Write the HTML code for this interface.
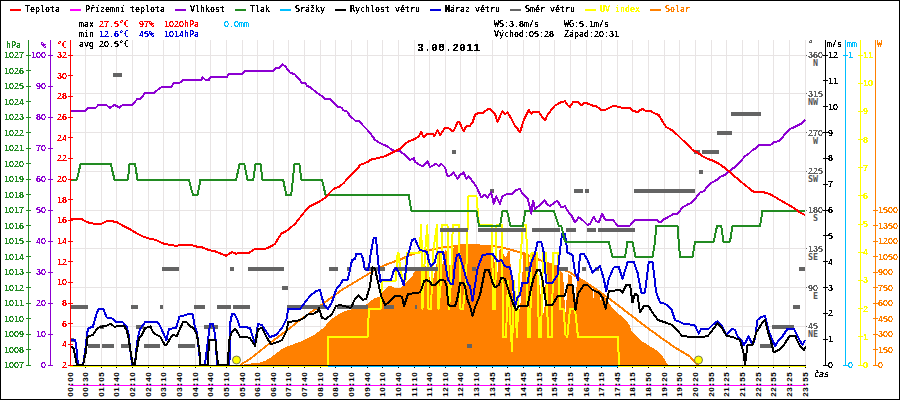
<!DOCTYPE html>
<html><head><meta charset="utf-8"><style>
html,body{margin:0;padding:0;background:#fff;}
.c{position:relative;width:900px;height:400px;overflow:hidden;background:#fff;}
svg{position:absolute;left:0;top:0;}
text{font-family:"DejaVu Sans Mono","Liberation Mono",monospace;font-size:8.3px;font-weight:normal;}
</style></head><body><div class="c">
<svg width="900" height="400" viewBox="0 0 900 400">
<defs><filter id="th" x="0" y="0" width="100%" height="100%" color-interpolation-filters="sRGB"><feComponentTransfer><feFuncA type="discrete" tableValues="0 1 1"/></feComponentTransfer></filter><filter id="th5" x="0" y="0" width="100%" height="100%" color-interpolation-filters="sRGB"><feComponentTransfer><feFuncA type="discrete" tableValues="0 1"/></feComponentTransfer></filter></defs>
<rect x="0.5" y="0.5" width="899" height="399" fill="#fff" stroke="#000" stroke-width="1"/>
<path d="M85.5 40V365 M101.5 40V365 M116.5 40V365 M132.5 40V365 M148.5 40V365 M163.5 40V365 M179.5 40V365 M195.5 40V365 M210.5 40V365 M226.5 40V365 M242.5 40V365 M257.5 40V365 M273.5 40V365 M288.5 40V365 M304.5 40V365 M320.5 40V365 M335.5 40V365 M351.5 40V365 M367.5 40V365 M382.5 40V365 M398.5 40V365 M414.5 40V365 M429.5 40V365 M445.5 40V365 M460.5 40V365 M476.5 40V365 M492.5 40V365 M507.5 40V365 M523.5 40V365 M539.5 40V365 M554.5 40V365 M570.5 40V365 M586.5 40V365 M601.5 40V365 M617.5 40V365 M632.5 40V365 M648.5 40V365 M664.5 40V365 M679.5 40V365 M695.5 40V365 M711.5 40V365 M726.5 40V365 M742.5 40V365 M758.5 40V365 M773.5 40V365 M789.5 40V365 M805.5 40V365 M71 55.5H805 M71 93.5H805 M71 132.5H805 M71 171.5H805 M71 210.5H805 M71 248.5H805 M71 287.5H805 M71 326.5H805" stroke="#e8e4e4" stroke-width="1" fill="none" shape-rendering="crispEdges"/>
<path d="M70 366.5H806" stroke="#00bfff" stroke-width="1" shape-rendering="crispEdges"/>
<path d="M240.00 365.00 L250.00 363.60 L258.00 363.00 L262.00 362.00 L266.00 360.40 L270.00 358.00 L274.00 355.00 L278.00 352.00 L282.00 349.00 L286.00 347.00 L290.00 345.60 L294.00 344.00 L298.00 342.40 L302.00 341.00 L306.00 339.00 L310.00 337.00 L314.00 335.00 L318.00 332.00 L322.00 329.00 L326.00 325.00 L330.00 320.00 L335.00 316.50 L342.50 312.00 L347.00 310.50 L352.00 309.30 L359.00 307.50 L363.50 306.00 L368.00 303.70 L371.70 300.00 L375.50 297.70 L380.00 297.00 L383.00 291.00 L386.70 288.00 L389.00 285.70 L392.00 286.50 L395.00 288.00 L400.00 288.00 L404.00 284.00 L408.00 280.00 L412.00 277.00 L414.00 272.00 L417.00 270.00 L420.00 268.00 L422.50 263.00 L426.00 266.00 L428.00 270.00 L431.00 283.00 L433.00 281.00 L435.00 270.00 L437.00 262.00 L438.00 253.00 L440.00 253.00 L441.50 262.00 L443.00 265.00 L444.50 252.00 L446.00 249.00 L448.00 258.00 L450.00 267.00 L451.50 262.00 L452.50 250.00 L455.00 246.00 L460.00 245.50 L470.00 245.00 L480.00 245.00 L490.00 246.00 L492.50 247.00 L494.50 262.00 L496.50 276.00 L498.00 270.00 L499.00 250.00 L501.00 248.00 L502.50 249.00 L504.00 256.00 L506.00 258.00 L508.00 251.00 L509.50 251.00 L511.00 270.00 L513.00 300.00 L516.00 317.50 L519.00 312.50 L521.00 300.00 L522.50 272.00 L523.50 252.00 L528.50 254.00 L530.00 266.00 L531.50 254.00 L536.50 255.00 L538.00 270.00 L540.00 290.00 L542.50 307.50 L544.00 315.00 L545.00 300.00 L546.00 270.00 L547.00 263.00 L552.00 264.00 L556.00 266.00 L558.00 266.00 L560.00 271.00 L563.00 273.00 L564.50 300.00 L565.50 312.00 L566.50 300.00 L568.00 274.00 L571.50 276.00 L573.00 296.00 L574.50 312.00 L576.00 292.00 L577.50 278.50 L582.50 281.50 L587.50 285.00 L592.00 288.00 L593.50 298.00 L595.00 288.50 L599.00 291.50 L600.50 300.00 L602.00 293.00 L606.00 299.00 L610.00 304.50 L614.00 310.00 L620.00 315.00 L626.00 320.00 L630.00 326.00 L632.00 332.00 L636.00 336.00 L640.00 340.00 L648.00 345.00 L656.00 350.00 L662.00 355.00 L666.00 362.00 L668.00 365.00 Z" fill="#ff8000" stroke="none" shape-rendering="crispEdges"/>
<path d="M240.00 365.00 L250.00 359.00 L260.00 351.00 L270.00 343.00 L280.00 335.60 L290.00 328.00 L300.00 320.00 L310.00 313.00 L320.00 306.00 L329.20 299.20 L341.70 290.00 L350.00 285.00 L358.30 280.00 L366.70 275.00 L375.00 270.00 L383.30 265.80 L391.70 262.50 L400.00 259.70 L408.30 255.80 L416.70 253.00 L425.00 250.80 L433.30 249.20 L441.70 247.50 L450.00 246.70 L460.00 245.50 L470.00 245.00 L480.00 245.50 L490.00 246.00 L500.00 247.00 L510.00 249.50 L520.00 252.50 L532.00 257.00 L545.00 262.00 L558.00 267.00 L570.00 272.50 L585.00 282.00 L600.00 292.00 L615.00 303.00 L630.00 314.50 L645.00 326.00 L660.00 337.00 L675.00 347.50 L690.00 356.50 L696.00 363.00 L699.00 365.00" fill="none" stroke="#ff8000" stroke-width="2" stroke-linejoin="round" shape-rendering="crispEdges" />
<path d="M70.00 366.00 L327.50 366.00 L328.30 337.00 L367.50 337.00 L369.00 309.00 L380.50 309.00 L382.00 281.00 L395.50 281.00 L397.70 253.00 L398.50 253.00 L400.00 267.00 L403.00 281.00 L405.50 281.00 L406.70 253.00 L419.50 253.00 L421.30 225.00 L422.50 309.00 L425.00 253.00 L427.40 225.00 L428.50 309.00 L431.00 309.00 L433.00 253.00 L437.00 225.00 L438.50 309.00 L441.00 281.00 L442.00 225.00 L447.50 225.00 L449.00 309.00 L451.00 281.00 L452.80 225.00 L459.00 225.00 L460.50 309.00 L463.00 309.00 L466.00 281.00 L468.50 196.00 L476.40 196.00 L479.00 225.00 L492.00 225.00 L493.00 309.00 L495.00 309.00 L496.50 225.00 L502.00 225.00 L503.00 337.00 L506.00 337.00 L508.00 281.00 L512.00 351.00 L514.00 281.00 L517.00 337.00 L519.00 281.00 L522.80 225.00 L526.30 225.00 L528.00 337.00 L530.00 337.00 L531.50 253.00 L537.00 253.00 L539.00 337.00 L541.00 337.00 L543.00 253.00 L546.00 253.00 L548.00 337.00 L552.00 337.00 L553.00 253.00 L558.00 253.00 L560.00 309.00 L563.50 309.00 L565.50 335.00 L567.30 337.00 L570.00 309.00 L575.00 309.00 L578.00 337.00 L618.00 337.00 L619.00 366.00 L806.00 366.00" fill="none" stroke="#ffff00" stroke-width="2" stroke-linejoin="round" shape-rendering="crispEdges" />
<path d="M70 305H88V309H70Z M131 305H138V309H131Z M160 305H163V309H160Z M194 305H205V309H194Z M217 305H231V309H217Z M233 305H250V309H233Z M287 305H327V309H287Z M337 305H368V309H337Z M329 267H338V271H329Z M347 267H350V271H347Z M365 267H385V271H365Z M394 267H438V271H394Z M472 267H476V271H472Z M384 305H394V309H384Z M415 305H417V309H415Z M100 325H104V329H100Z M136 325H144V329H136Z M204 325H218V329H204Z M88 344H100V348H88Z M102 344H114V348H102Z M121 344H131V348H121Z M144 344H160V348H144Z M178 344H195V348H178Z M467 344H472V348H467Z M70 338H74V342H70Z M162 267H179V271H162Z M230 267H234V271H230Z M248 267H284V271H248Z M525 267H531V271H525Z M559 267H568V271H559Z M582 267H586V271H582Z M595 267H599V271H595Z M799 267H805V271H799Z M282 286H288V290H282Z M452 150H456V154H452Z M694 150H700V154H694Z M702 150H719V154H702Z M490 189H494V193H490Z M574 189H583V193H574Z M585 189H589V193H585Z M634 189H695V193H634Z M440 228H468V232H440Z M478 228H526V232H478Z M532 228H560V232H532Z M566 228H576V232H566Z M587 228H596V232H587Z M598 228H635V232H598Z M699 170H703V174H699Z M731 112H761V116H731Z M717 131H732V135H717Z M772 325H794V329H772Z M760 344H772V348H760Z M793 305H800V309H793Z M113 73H122V77H113Z" fill="#646464" shape-rendering="crispEdges"/>
<path d="M70.00 339.90 L75.25 339.90 L77.00 352.50 L77.90 365.00 L83.00 365.00 L84.90 352.50 L87.50 331.50 L88.40 328.00 L92.75 327.00 L94.50 321.00 L97.10 312.25 L98.90 308.75 L103.25 308.75 L106.75 317.50 L112.00 318.40 L115.50 321.90 L122.50 321.90 L126.90 327.00 L128.60 335.00 L132.10 365.00 L134.75 365.00 L137.40 340.25 L140.00 328.90 L145.25 321.90 L155.00 321.90 L158.50 322.75 L163.75 334.00 L166.40 340.25 L169.00 328.90 L176.00 328.00 L179.50 316.60 L186.50 314.90 L189.00 313.60 L192.60 314.00 L194.40 324.50 L197.00 332.40 L200.50 365.00 L204.90 365.00 L207.50 343.75 L210.10 323.60 L212.75 323.60 L215.40 336.75 L217.10 365.00 L229.40 365.00 L230.25 322.75 L232.00 314.00 L234.60 314.00 L237.25 319.25 L239.90 327.00 L245.00 327.00 L250.00 328.00 L255.00 344.00 L258.00 324.00 L262.00 325.00 L267.00 333.00 L270.00 337.00 L276.00 335.00 L282.00 328.00 L287.00 318.00 L288.00 309.00 L300.00 309.00 L306.00 301.00 L310.00 296.00 L316.00 291.00 L320.00 290.00 L324.00 305.00 L328.00 309.00 L332.00 302.00 L336.00 290.00 L337.50 287.50 L340.00 285.00 L343.00 279.70 L347.50 279.70 L349.00 274.50 L351.20 264.00 L352.00 260.20 L355.00 258.70 L356.50 253.50 L361.00 253.50 L363.20 259.50 L364.70 269.20 L367.70 270.00 L369.20 265.50 L370.70 253.50 L372.20 246.00 L373.70 238.00 L376.00 238.00 L377.50 255.00 L379.00 270.00 L380.50 282.00 L382.70 279.70 L391.00 279.70 L394.00 270.00 L396.20 267.70 L398.50 272.20 L401.50 279.00 L403.70 285.00 L406.00 270.00 L407.50 256.50 L409.70 249.00 L412.00 240.00 L415.00 239.00 L418.00 246.00 L420.00 250.00 L424.00 251.00 L427.00 252.00 L429.00 262.00 L431.00 266.00 L433.00 264.00 L435.00 262.00 L436.00 256.00 L438.00 252.00 L443.00 252.00 L445.00 262.00 L448.00 280.00 L451.00 284.00 L453.00 284.00 L455.00 264.00 L457.00 255.00 L459.00 254.00 L461.00 260.00 L463.00 267.00 L465.00 274.00 L468.00 284.00 L470.00 286.00 L472.50 301.25 L477.50 268.75 L482.50 255.00 L492.50 253.75 L497.50 261.25 L501.25 260.00 L505.00 266.25 L510.00 267.50 L512.50 280.00 L515.00 306.25 L517.50 297.50 L520.00 295.00 L522.50 282.50 L527.50 282.50 L531.25 262.50 L535.00 253.75 L537.50 242.00 L541.25 242.00 L543.75 252.50 L546.25 282.50 L552.50 282.50 L557.50 275.00 L560.00 250.00 L562.00 233.75 L565.00 233.75 L567.50 252.50 L572.50 255.00 L575.00 272.50 L578.00 280.00 L580.00 254.50 L583.75 253.75 L587.50 260.00 L592.50 272.50 L595.00 270.00 L600.00 266.25 L603.75 278.75 L606.25 291.25 L608.75 278.75 L613.75 267.50 L618.75 267.00 L622.50 278.75 L627.50 262.50 L633.75 262.00 L637.50 272.50 L641.25 292.50 L645.00 292.50 L648.75 262.00 L652.50 262.00 L656.25 292.50 L660.00 302.50 L665.00 303.75 L671.25 308.75 L675.00 320.00 L680.00 322.00 L683.75 323.75 L690.00 324.50 L695.00 325.50 L698.75 333.75 L701.25 328.75 L708.75 328.75 L712.50 325.00 L717.50 321.25 L721.25 325.00 L726.25 335.00 L730.00 331.25 L732.50 328.75 L735.00 330.00 L737.50 336.25 L741.25 340.00 L743.75 345.00 L746.25 341.25 L748.75 336.25 L752.50 345.00 L755.00 338.75 L757.50 320.00 L761.25 317.00 L765.00 315.75 L768.75 331.25 L772.50 340.00 L775.00 346.25 L778.75 340.00 L782.50 336.25 L787.50 328.75 L793.75 328.75 L797.50 336.25 L802.50 345.00 L805.00 340.00" fill="none" stroke="#0000dc" stroke-width="2" stroke-linejoin="round" shape-rendering="crispEdges" />
<path d="M70.00 346.40 L73.50 348.00 L77.00 365.00 L83.00 365.00 L85.75 352.50 L87.50 337.60 L89.25 335.90 L92.75 335.00 L96.25 329.75 L99.75 327.00 L104.00 326.25 L107.60 325.40 L110.25 323.60 L112.90 325.40 L114.60 327.00 L116.40 326.25 L124.25 326.25 L126.90 330.60 L128.60 338.50 L131.25 356.00 L133.00 365.00 L134.75 365.00 L136.50 352.50 L139.00 337.60 L141.75 335.00 L145.25 328.00 L150.50 326.25 L152.25 330.60 L155.00 334.00 L160.25 336.75 L164.60 344.60 L166.40 344.60 L172.50 335.00 L176.90 335.90 L183.00 321.90 L186.50 321.90 L190.00 326.25 L193.50 328.00 L197.00 335.00 L199.60 352.50 L200.50 365.00 L207.50 365.00 L209.25 340.00 L215.40 340.00 L218.00 365.00 L227.60 365.00 L229.40 340.00 L232.00 331.50 L235.50 328.90 L238.10 333.25 L239.90 336.75 L245.00 336.75 L250.00 338.00 L255.00 346.00 L258.00 329.00 L262.00 328.00 L267.00 338.00 L271.00 344.00 L278.00 342.00 L282.00 340.00 L287.00 330.00 L288.00 322.00 L296.00 321.00 L300.00 320.00 L304.00 318.00 L309.00 313.60 L314.00 313.60 L318.00 311.00 L319.00 308.00 L322.00 318.00 L326.00 319.00 L332.00 314.00 L336.00 306.00 L340.00 305.00 L345.00 306.25 L348.75 307.50 L351.25 307.50 L355.00 298.75 L358.75 295.50 L362.50 300.00 L366.25 298.75 L370.00 286.25 L372.50 267.50 L375.00 268.75 L377.50 280.00 L381.25 296.25 L385.00 305.00 L390.00 301.25 L395.00 295.50 L400.00 296.00 L402.00 297.00 L404.00 306.00 L406.00 300.00 L408.00 294.00 L420.00 292.40 L422.00 288.00 L424.00 281.00 L427.00 280.00 L430.00 282.00 L432.00 285.00 L435.00 285.00 L437.00 283.00 L440.00 280.00 L443.00 280.00 L445.00 281.00 L447.00 288.00 L448.00 304.00 L450.00 306.00 L455.00 306.00 L457.00 300.00 L459.00 290.00 L460.00 283.00 L463.00 283.00 L465.00 286.00 L467.00 298.00 L469.00 304.00 L470.00 306.00 L472.50 316.25 L475.00 307.50 L480.00 295.00 L485.00 270.00 L488.75 270.00 L492.50 282.50 L495.00 287.50 L498.75 285.00 L501.25 277.50 L505.00 278.75 L510.00 295.00 L513.75 305.00 L516.25 310.00 L518.75 306.25 L520.00 306.25 L527.50 306.25 L531.25 287.50 L533.75 277.50 L537.50 269.50 L540.00 269.50 L542.50 280.00 L546.25 305.00 L552.50 305.00 L557.50 296.25 L565.00 295.50 L567.50 285.00 L572.50 285.00 L575.50 310.00 L578.00 293.75 L583.75 285.00 L587.50 285.00 L592.50 290.00 L598.75 292.50 L602.50 297.50 L605.75 308.75 L608.75 291.25 L615.00 290.50 L620.00 290.00 L622.50 292.50 L626.25 285.00 L630.00 284.50 L632.50 302.50 L635.00 293.75 L637.50 295.00 L640.00 312.50 L643.75 306.25 L648.75 306.25 L652.00 312.00 L658.00 320.00 L664.00 322.00 L672.00 325.00 L678.00 331.00 L682.00 336.00 L692.00 337.00 L700.00 337.00 L707.50 336.25 L711.25 332.00 L717.50 323.00 L722.50 328.75 L726.25 335.50 L733.75 337.50 L740.00 340.00 L743.75 353.75 L745.00 365.00 L746.25 355.00 L747.50 345.00 L752.50 345.00 L756.25 332.50 L762.50 322.50 L765.00 320.00 L767.50 330.00 L771.25 342.50 L773.75 352.50 L778.75 350.00 L783.75 345.00 L790.00 335.50 L795.00 335.50 L800.00 346.25 L803.75 350.00 L806.00 346.25" fill="none" stroke="#000000" stroke-width="2" stroke-linejoin="round" shape-rendering="crispEdges" />
<path d="M70.00 179.60 L77.00 179.60 L80.50 164.10 L110.75 164.10 L114.50 179.60 L128.00 179.60 L129.50 164.10 L135.00 164.10 L137.50 179.60 L188.75 179.60 L193.00 195.10 L197.50 195.10 L200.50 179.60 L236.25 179.60 L239.50 164.10 L244.25 164.10 L247.50 179.60 L253.25 179.60 L255.50 164.10 L260.50 164.10 L262.50 179.60 L283.10 179.60 L286.30 195.10 L291.25 195.10 L294.40 164.10 L299.40 164.10 L301.25 179.60 L321.90 179.60 L325.60 195.10 L408.75 195.10 L411.25 210.60 L476.40 210.60 L479.00 226.10 L500.00 226.10 L502.60 210.60 L507.00 210.60 L510.50 226.10 L522.80 226.10 L525.40 210.60 L553.75 210.60 L558.75 226.10 L561.25 226.10 L565.00 241.60 L608.75 241.60 L612.50 257.10 L625.00 257.10 L627.50 241.60 L632.50 241.60 L635.50 257.10 L652.50 257.10 L655.00 241.60 L656.25 226.10 L677.50 226.10 L678.75 241.60 L680.00 257.10 L692.50 257.10 L695.00 241.60 L713.75 241.60 L717.00 226.10 L721.25 226.10 L723.50 241.60 L730.00 241.60 L732.50 226.10 L760.00 226.10 L762.50 210.60 L805.00 210.60" fill="none" stroke="#228b22" stroke-width="2" stroke-linejoin="round" shape-rendering="crispEdges" />
<path d="M70.00 110.75 L85.00 110.75 L88.75 107.50 L96.25 107.50 L98.25 105.00 L106.25 105.00 L110.00 108.00 L114.50 104.75 L119.50 107.75 L122.50 105.00 L132.50 105.00 L137.00 99.25 L140.75 98.75 L145.00 93.00 L153.75 93.00 L157.50 90.00 L162.00 86.75 L171.25 86.75 L173.75 83.25 L180.00 82.50 L183.00 80.00 L201.25 80.00 L202.50 77.00 L205.50 80.00 L208.75 80.00 L210.50 77.00 L227.00 77.00 L228.75 73.75 L242.50 73.75 L244.50 71.00 L273.00 71.00 L275.50 68.00 L278.75 68.00 L282.50 64.50 L285.00 66.00 L290.00 72.50 L295.00 74.50 L300.00 80.00 L301.25 82.50 L305.00 83.00 L307.50 86.25 L310.00 87.00 L315.00 91.25 L317.50 93.00 L320.00 95.00 L322.50 96.25 L325.00 98.75 L330.00 99.25 L333.75 102.50 L337.50 107.00 L341.25 107.50 L343.75 110.50 L347.50 111.75 L350.00 116.25 L352.50 118.00 L355.00 120.50 L359.50 121.25 L362.50 125.00 L367.50 130.00 L372.50 136.25 L375.00 140.00 L381.25 143.75 L387.50 146.25 L391.25 149.50 L395.00 151.25 L400.00 151.25 L405.00 155.00 L410.00 160.00 L413.75 158.00 L415.00 162.00 L420.00 165.00 L422.50 166.25 L427.50 161.25 L430.00 167.00 L433.75 165.00 L436.25 163.75 L438.75 166.25 L441.25 163.75 L445.00 167.50 L447.50 176.25 L451.25 175.00 L453.75 172.50 L457.50 178.75 L460.00 175.00 L463.75 172.50 L466.25 178.75 L468.75 176.25 L472.50 181.25 L476.25 186.25 L481.25 197.50 L485.00 194.50 L487.50 197.50 L491.25 192.50 L493.75 203.75 L496.25 196.25 L500.00 203.75 L502.50 196.25 L506.25 194.50 L512.50 193.75 L516.25 190.00 L520.00 188.75 L522.50 193.75 L525.00 196.25 L527.50 198.00 L530.00 207.50 L531.25 213.75 L533.00 200.50 L535.00 208.75 L537.50 207.00 L540.00 205.00 L544.50 200.50 L547.50 204.50 L550.00 206.25 L553.75 203.00 L557.50 200.75 L561.25 207.50 L565.00 206.25 L568.75 212.50 L571.25 215.00 L575.00 222.50 L578.75 217.50 L582.50 220.00 L587.50 225.00 L590.00 223.75 L593.75 217.00 L596.25 221.25 L598.75 222.50 L602.00 213.75 L605.00 219.50 L612.50 219.50 L617.50 225.50 L630.00 225.50 L635.00 220.00 L656.25 219.50 L660.00 222.50 L663.75 219.50 L667.50 217.50 L672.50 214.50 L677.50 213.75 L682.50 207.50 L687.50 204.50 L691.25 203.00 L696.25 197.50 L700.00 192.50 L703.75 191.25 L706.25 188.00 L711.25 183.00 L717.50 179.50 L721.25 176.25 L725.00 175.00 L731.25 169.50 L735.00 167.00 L740.00 162.00 L745.00 156.25 L748.75 153.75 L752.50 150.00 L755.00 148.75 L758.75 145.00 L771.25 144.50 L773.75 142.00 L778.75 141.25 L782.50 137.50 L786.25 132.50 L790.00 128.75 L793.75 127.50 L796.25 126.25 L798.75 125.00 L801.25 123.75 L805.00 120.00" fill="none" stroke="#8c00d2" stroke-width="2" stroke-linejoin="round" shape-rendering="crispEdges" />
<path d="M70.00 218.75 L81.25 218.75 L85.00 221.25 L90.00 223.00 L95.00 223.75 L100.50 224.50 L103.75 222.50 L108.75 220.50 L112.50 221.25 L117.50 222.50 L123.75 226.25 L131.25 230.00 L137.50 233.75 L142.50 236.25 L150.00 238.75 L156.25 240.00 L162.50 243.25 L167.50 244.50 L172.50 245.00 L176.25 246.25 L180.00 244.50 L190.00 244.50 L195.00 246.25 L202.50 247.50 L208.75 250.00 L215.00 251.25 L221.25 253.75 L226.25 255.75 L232.00 252.00 L236.25 253.75 L240.00 252.50 L248.75 253.25 L255.00 248.75 L265.00 248.75 L270.00 247.00 L275.00 243.75 L281.25 233.75 L286.25 231.25 L291.25 227.00 L295.00 224.00 L300.00 217.50 L305.00 211.25 L308.75 207.00 L313.75 204.50 L320.00 201.25 L326.25 197.00 L330.00 192.50 L333.75 188.75 L338.75 187.00 L343.75 183.00 L347.50 178.75 L352.50 173.75 L357.50 168.75 L360.00 165.00 L367.50 162.00 L371.25 159.50 L375.00 158.75 L380.00 157.50 L385.00 156.25 L390.00 153.75 L395.00 151.25 L400.00 148.75 L405.00 143.75 L410.00 140.75 L415.00 139.00 L418.75 136.25 L421.25 132.00 L423.75 137.50 L427.00 133.75 L432.50 133.75 L434.50 136.25 L437.50 130.00 L440.00 135.00 L445.00 128.00 L448.00 127.50 L451.25 130.50 L453.75 130.50 L457.50 122.50 L459.50 122.00 L461.25 126.25 L463.75 131.25 L466.25 126.25 L470.00 125.75 L472.50 122.50 L475.00 115.00 L478.75 112.50 L482.50 113.00 L485.00 111.25 L488.75 108.75 L491.25 110.00 L495.00 113.75 L497.50 122.00 L500.00 116.25 L502.50 111.25 L505.00 114.50 L507.50 112.00 L511.25 118.75 L515.00 126.25 L517.50 128.75 L520.00 132.50 L523.75 120.00 L528.75 110.00 L531.25 113.75 L533.75 111.75 L538.75 111.75 L542.50 117.50 L545.00 120.50 L547.50 115.00 L551.25 110.00 L555.00 105.50 L561.25 102.00 L565.00 101.25 L567.50 105.00 L570.00 107.00 L573.00 102.00 L578.75 102.50 L581.25 105.50 L585.00 102.50 L592.50 105.50 L596.25 106.25 L601.25 110.00 L605.00 110.00 L612.50 106.25 L616.25 106.25 L622.50 108.00 L630.00 108.00 L632.50 110.75 L637.50 112.00 L642.50 108.75 L645.00 110.50 L650.00 110.50 L653.75 113.00 L658.75 115.00 L662.50 121.25 L666.25 127.00 L672.50 130.50 L677.50 135.00 L682.50 140.00 L687.50 144.50 L692.50 150.00 L697.50 152.50 L702.50 156.25 L707.50 158.75 L712.50 160.50 L717.50 163.00 L722.50 166.25 L727.50 170.00 L732.50 174.50 L737.50 178.75 L742.50 183.00 L747.50 187.00 L752.50 191.25 L757.50 192.50 L762.50 192.00 L767.50 193.25 L772.50 195.50 L780.00 200.00 L787.50 204.25 L795.00 208.75 L800.00 212.50 L805.00 215.00" fill="none" stroke="#ff0000" stroke-width="2" stroke-linejoin="round" shape-rendering="crispEdges" />
<circle cx="236.5" cy="360" r="4" fill="#ffff00" stroke="#555" stroke-width="0.8"/>
<circle cx="698.5" cy="360" r="4" fill="#ffff00" stroke="#555" stroke-width="0.8"/>
<path d="M70 365.5H806" stroke="#000" stroke-width="1" shape-rendering="crispEdges"/>
<path d="M85 367h1v1h-1z M101 367h1v1h-1z M116 367h1v1h-1z M132 367h1v1h-1z M148 367h1v1h-1z M163 367h1v1h-1z M179 367h1v1h-1z M195 367h1v1h-1z M210 367h1v1h-1z M226 367h1v1h-1z M242 367h1v1h-1z M257 367h1v1h-1z M273 367h1v1h-1z M288 367h1v1h-1z M304 367h1v1h-1z M320 367h1v1h-1z M335 367h1v1h-1z M351 367h1v1h-1z M367 367h1v1h-1z M382 367h1v1h-1z M398 367h1v1h-1z M414 367h1v1h-1z M429 367h1v1h-1z M445 367h1v1h-1z M460 367h1v1h-1z M476 367h1v1h-1z M492 367h1v1h-1z M507 367h1v1h-1z M523 367h1v1h-1z M539 367h1v1h-1z M554 367h1v1h-1z M570 367h1v1h-1z M586 367h1v1h-1z M601 367h1v1h-1z M617 367h1v1h-1z M632 367h1v1h-1z M648 367h1v1h-1z M664 367h1v1h-1z M679 367h1v1h-1z M695 367h1v1h-1z M711 367h1v1h-1z M726 367h1v1h-1z M742 367h1v1h-1z M758 367h1v1h-1z M773 367h1v1h-1z M789 367h1v1h-1z M805 367h1v1h-1z" fill="#000"/>
<path d="M28.5 40V366" stroke="#228b22" stroke-width="1" shape-rendering="crispEdges"/>
<path d="M50.5 40V366" stroke="#8c00d2" stroke-width="1" shape-rendering="crispEdges"/>
<path d="M70.5 40V366" stroke="#ff0000" stroke-width="1" shape-rendering="crispEdges"/>
<path d="M825.5 40V366" stroke="#000000" stroke-width="1" shape-rendering="crispEdges"/>
<path d="M845.5 40V366" stroke="#00bfff" stroke-width="1" shape-rendering="crispEdges"/>
<path d="M860.5 40V366" stroke="#ffff00" stroke-width="1" shape-rendering="crispEdges"/>
<path d="M875.5 40V366" stroke="#ff8000" stroke-width="1" shape-rendering="crispEdges"/>
<path d="M26 55.5h5" stroke="#228b22" shape-rendering="crispEdges"/>
<path d="M26 70.5h5" stroke="#228b22" shape-rendering="crispEdges"/>
<path d="M26 86.5h5" stroke="#228b22" shape-rendering="crispEdges"/>
<path d="M26 101.5h5" stroke="#228b22" shape-rendering="crispEdges"/>
<path d="M26 117.5h5" stroke="#228b22" shape-rendering="crispEdges"/>
<path d="M26 132.5h5" stroke="#228b22" shape-rendering="crispEdges"/>
<path d="M26 148.5h5" stroke="#228b22" shape-rendering="crispEdges"/>
<path d="M26 163.5h5" stroke="#228b22" shape-rendering="crispEdges"/>
<path d="M26 179.5h5" stroke="#228b22" shape-rendering="crispEdges"/>
<path d="M26 194.5h5" stroke="#228b22" shape-rendering="crispEdges"/>
<path d="M26 210.5h5" stroke="#228b22" shape-rendering="crispEdges"/>
<path d="M26 225.5h5" stroke="#228b22" shape-rendering="crispEdges"/>
<path d="M26 241.5h5" stroke="#228b22" shape-rendering="crispEdges"/>
<path d="M26 256.5h5" stroke="#228b22" shape-rendering="crispEdges"/>
<path d="M26 272.5h5" stroke="#228b22" shape-rendering="crispEdges"/>
<path d="M26 287.5h5" stroke="#228b22" shape-rendering="crispEdges"/>
<path d="M26 303.5h5" stroke="#228b22" shape-rendering="crispEdges"/>
<path d="M26 318.5h5" stroke="#228b22" shape-rendering="crispEdges"/>
<path d="M26 334.5h5" stroke="#228b22" shape-rendering="crispEdges"/>
<path d="M26 349.5h5" stroke="#228b22" shape-rendering="crispEdges"/>
<path d="M26 365.5h5" stroke="#228b22" shape-rendering="crispEdges"/>
<path d="M48 55.5h5" stroke="#8c00d2" shape-rendering="crispEdges"/>
<path d="M48 86.5h5" stroke="#8c00d2" shape-rendering="crispEdges"/>
<path d="M48 117.5h5" stroke="#8c00d2" shape-rendering="crispEdges"/>
<path d="M48 148.5h5" stroke="#8c00d2" shape-rendering="crispEdges"/>
<path d="M48 179.5h5" stroke="#8c00d2" shape-rendering="crispEdges"/>
<path d="M48 210.5h5" stroke="#8c00d2" shape-rendering="crispEdges"/>
<path d="M48 241.5h5" stroke="#8c00d2" shape-rendering="crispEdges"/>
<path d="M48 272.5h5" stroke="#8c00d2" shape-rendering="crispEdges"/>
<path d="M48 303.5h5" stroke="#8c00d2" shape-rendering="crispEdges"/>
<path d="M48 334.5h5" stroke="#8c00d2" shape-rendering="crispEdges"/>
<path d="M48 365.5h5" stroke="#8c00d2" shape-rendering="crispEdges"/>
<path d="M68 55.5h5" stroke="#ff0000" shape-rendering="crispEdges"/>
<path d="M68 75.5h5" stroke="#ff0000" shape-rendering="crispEdges"/>
<path d="M68 96.5h5" stroke="#ff0000" shape-rendering="crispEdges"/>
<path d="M68 117.5h5" stroke="#ff0000" shape-rendering="crispEdges"/>
<path d="M68 137.5h5" stroke="#ff0000" shape-rendering="crispEdges"/>
<path d="M68 158.5h5" stroke="#ff0000" shape-rendering="crispEdges"/>
<path d="M68 179.5h5" stroke="#ff0000" shape-rendering="crispEdges"/>
<path d="M68 199.5h5" stroke="#ff0000" shape-rendering="crispEdges"/>
<path d="M68 220.5h5" stroke="#ff0000" shape-rendering="crispEdges"/>
<path d="M68 241.5h5" stroke="#ff0000" shape-rendering="crispEdges"/>
<path d="M68 261.5h5" stroke="#ff0000" shape-rendering="crispEdges"/>
<path d="M68 282.5h5" stroke="#ff0000" shape-rendering="crispEdges"/>
<path d="M68 303.5h5" stroke="#ff0000" shape-rendering="crispEdges"/>
<path d="M68 323.5h5" stroke="#ff0000" shape-rendering="crispEdges"/>
<path d="M68 344.5h5" stroke="#ff0000" shape-rendering="crispEdges"/>
<path d="M68 365.5h5" stroke="#ff0000" shape-rendering="crispEdges"/>
<rect x="806" y="55" width="1" height="1" fill="#646464"/>
<rect x="806" y="93" width="1" height="1" fill="#646464"/>
<rect x="806" y="132" width="1" height="1" fill="#646464"/>
<rect x="806" y="171" width="1" height="1" fill="#646464"/>
<rect x="806" y="210" width="1" height="1" fill="#646464"/>
<rect x="806" y="248" width="1" height="1" fill="#646464"/>
<rect x="806" y="287" width="1" height="1" fill="#646464"/>
<rect x="806" y="326" width="1" height="1" fill="#646464"/>
<path d="M823 55.5h5" stroke="#000" shape-rendering="crispEdges"/>
<path d="M823 80.5h5" stroke="#000" shape-rendering="crispEdges"/>
<path d="M823 106.5h5" stroke="#000" shape-rendering="crispEdges"/>
<path d="M823 132.5h5" stroke="#000" shape-rendering="crispEdges"/>
<path d="M823 158.5h5" stroke="#000" shape-rendering="crispEdges"/>
<path d="M823 184.5h5" stroke="#000" shape-rendering="crispEdges"/>
<path d="M823 210.5h5" stroke="#000" shape-rendering="crispEdges"/>
<path d="M823 235.5h5" stroke="#000" shape-rendering="crispEdges"/>
<path d="M823 261.5h5" stroke="#000" shape-rendering="crispEdges"/>
<path d="M823 287.5h5" stroke="#000" shape-rendering="crispEdges"/>
<path d="M823 313.5h5" stroke="#000" shape-rendering="crispEdges"/>
<path d="M823 339.5h5" stroke="#000" shape-rendering="crispEdges"/>
<path d="M823 365.5h5" stroke="#000" shape-rendering="crispEdges"/>
<path d="M843 55.5h5" stroke="#00bfff" shape-rendering="crispEdges"/>
<path d="M843 365.5h5" stroke="#00bfff" shape-rendering="crispEdges"/>
<path d="M858 55.5h5" stroke="#ffff00" shape-rendering="crispEdges"/>
<path d="M858 83.5h5" stroke="#ffff00" shape-rendering="crispEdges"/>
<path d="M858 111.5h5" stroke="#ffff00" shape-rendering="crispEdges"/>
<path d="M858 139.5h5" stroke="#ffff00" shape-rendering="crispEdges"/>
<path d="M858 167.5h5" stroke="#ffff00" shape-rendering="crispEdges"/>
<path d="M858 195.5h5" stroke="#ffff00" shape-rendering="crispEdges"/>
<path d="M858 224.5h5" stroke="#ffff00" shape-rendering="crispEdges"/>
<path d="M858 252.5h5" stroke="#ffff00" shape-rendering="crispEdges"/>
<path d="M858 280.5h5" stroke="#ffff00" shape-rendering="crispEdges"/>
<path d="M858 308.5h5" stroke="#ffff00" shape-rendering="crispEdges"/>
<path d="M858 336.5h5" stroke="#ffff00" shape-rendering="crispEdges"/>
<path d="M858 365.5h5" stroke="#ffff00" shape-rendering="crispEdges"/>
<path d="M873 210.5h5" stroke="#ff8000" shape-rendering="crispEdges"/>
<path d="M873 225.5h5" stroke="#ff8000" shape-rendering="crispEdges"/>
<path d="M873 241.5h5" stroke="#ff8000" shape-rendering="crispEdges"/>
<path d="M873 256.5h5" stroke="#ff8000" shape-rendering="crispEdges"/>
<path d="M873 272.5h5" stroke="#ff8000" shape-rendering="crispEdges"/>
<path d="M873 287.5h5" stroke="#ff8000" shape-rendering="crispEdges"/>
<path d="M873 303.5h5" stroke="#ff8000" shape-rendering="crispEdges"/>
<path d="M873 318.5h5" stroke="#ff8000" shape-rendering="crispEdges"/>
<path d="M873 334.5h5" stroke="#ff8000" shape-rendering="crispEdges"/>
<path d="M873 349.5h5" stroke="#ff8000" shape-rendering="crispEdges"/>
<path d="M873 365.5h5" stroke="#ff8000" shape-rendering="crispEdges"/>
<path d="M70 385.5H806" stroke="#ff00ff" stroke-width="1" shape-rendering="crispEdges"/>
<rect x="10" y="9" width="11" height="2" fill="#ff0000"/>
<rect x="70" y="9" width="11" height="2" fill="#ff00ff"/>
<rect x="175" y="9" width="11" height="2" fill="#8c00d2"/>
<rect x="235" y="9" width="11" height="2" fill="#228b22"/>
<rect x="280" y="9" width="11" height="2" fill="#00bfff"/>
<rect x="335" y="9" width="11" height="2" fill="#000000"/>
<rect x="430" y="9" width="11" height="2" fill="#0000dc"/>
<rect x="510" y="9" width="11" height="2" fill="#646464"/>
<rect x="585" y="9" width="11" height="2" fill="#ffff00"/>
<rect x="650" y="9" width="11" height="2" fill="#ff8000"/>
<g filter="url(#th)"><text y="58.0" fill="#228b22" ><tspan x="4.05 9.05 14.05 19.05" style="font-family:&quot;Liberation Sans&quot;,sans-serif;font-size:8.8px;font-weight:normal">1027</tspan></text>
<text y="73.5" fill="#228b22" ><tspan x="4.05 9.05 14.05 19.05" style="font-family:&quot;Liberation Sans&quot;,sans-serif;font-size:8.8px;font-weight:normal">1026</tspan></text>
<text y="89.0" fill="#228b22" ><tspan x="4.05 9.05 14.05 19.05" style="font-family:&quot;Liberation Sans&quot;,sans-serif;font-size:8.8px;font-weight:normal">1025</tspan></text>
<text y="104.5" fill="#228b22" ><tspan x="4.05 9.05 14.05 19.05" style="font-family:&quot;Liberation Sans&quot;,sans-serif;font-size:8.8px;font-weight:normal">1024</tspan></text>
<text y="120.0" fill="#228b22" ><tspan x="4.05 9.05 14.05 19.05" style="font-family:&quot;Liberation Sans&quot;,sans-serif;font-size:8.8px;font-weight:normal">1023</tspan></text>
<text y="135.5" fill="#228b22" ><tspan x="4.05 9.05 14.05 19.05" style="font-family:&quot;Liberation Sans&quot;,sans-serif;font-size:8.8px;font-weight:normal">1022</tspan></text>
<text y="151.0" fill="#228b22" ><tspan x="4.05 9.05 14.05 19.05" style="font-family:&quot;Liberation Sans&quot;,sans-serif;font-size:8.8px;font-weight:normal">1021</tspan></text>
<text y="166.5" fill="#228b22" ><tspan x="4.05 9.05 14.05 19.05" style="font-family:&quot;Liberation Sans&quot;,sans-serif;font-size:8.8px;font-weight:normal">1020</tspan></text>
<text y="182.0" fill="#228b22" ><tspan x="4.05 9.05 14.05 19.05" style="font-family:&quot;Liberation Sans&quot;,sans-serif;font-size:8.8px;font-weight:normal">1019</tspan></text>
<text y="197.5" fill="#228b22" ><tspan x="4.05 9.05 14.05 19.05" style="font-family:&quot;Liberation Sans&quot;,sans-serif;font-size:8.8px;font-weight:normal">1018</tspan></text>
<text y="213.0" fill="#228b22" ><tspan x="4.05 9.05 14.05 19.05" style="font-family:&quot;Liberation Sans&quot;,sans-serif;font-size:8.8px;font-weight:normal">1017</tspan></text>
<text y="228.5" fill="#228b22" ><tspan x="4.05 9.05 14.05 19.05" style="font-family:&quot;Liberation Sans&quot;,sans-serif;font-size:8.8px;font-weight:normal">1016</tspan></text>
<text y="244.0" fill="#228b22" ><tspan x="4.05 9.05 14.05 19.05" style="font-family:&quot;Liberation Sans&quot;,sans-serif;font-size:8.8px;font-weight:normal">1015</tspan></text>
<text y="259.5" fill="#228b22" ><tspan x="4.05 9.05 14.05 19.05" style="font-family:&quot;Liberation Sans&quot;,sans-serif;font-size:8.8px;font-weight:normal">1014</tspan></text>
<text y="275.0" fill="#228b22" ><tspan x="4.05 9.05 14.05 19.05" style="font-family:&quot;Liberation Sans&quot;,sans-serif;font-size:8.8px;font-weight:normal">1013</tspan></text>
<text y="290.5" fill="#228b22" ><tspan x="4.05 9.05 14.05 19.05" style="font-family:&quot;Liberation Sans&quot;,sans-serif;font-size:8.8px;font-weight:normal">1012</tspan></text>
<text y="306.0" fill="#228b22" ><tspan x="4.05 9.05 14.05 19.05" style="font-family:&quot;Liberation Sans&quot;,sans-serif;font-size:8.8px;font-weight:normal">1011</tspan></text>
<text y="321.5" fill="#228b22" ><tspan x="4.05 9.05 14.05 19.05" style="font-family:&quot;Liberation Sans&quot;,sans-serif;font-size:8.8px;font-weight:normal">1010</tspan></text>
<text y="337.0" fill="#228b22" ><tspan x="4.05 9.05 14.05 19.05" style="font-family:&quot;Liberation Sans&quot;,sans-serif;font-size:8.8px;font-weight:normal">1009</tspan></text>
<text y="352.5" fill="#228b22" ><tspan x="4.05 9.05 14.05 19.05" style="font-family:&quot;Liberation Sans&quot;,sans-serif;font-size:8.8px;font-weight:normal">1008</tspan></text>
<text y="368.0" fill="#228b22" ><tspan x="4.05 9.05 14.05 19.05" style="font-family:&quot;Liberation Sans&quot;,sans-serif;font-size:8.8px;font-weight:normal">1007</tspan></text>
<text y="58" fill="#8c00d2" ><tspan x="31.05 36.05 41.05" style="font-family:&quot;Liberation Sans&quot;,sans-serif;font-size:8.8px;font-weight:normal">100</tspan></text>
<text y="89" fill="#8c00d2" ><tspan x="36.05 41.05" style="font-family:&quot;Liberation Sans&quot;,sans-serif;font-size:8.8px;font-weight:normal">90</tspan></text>
<text y="120" fill="#8c00d2" ><tspan x="36.05 41.05" style="font-family:&quot;Liberation Sans&quot;,sans-serif;font-size:8.8px;font-weight:normal">80</tspan></text>
<text y="151" fill="#8c00d2" ><tspan x="36.05 41.05" style="font-family:&quot;Liberation Sans&quot;,sans-serif;font-size:8.8px;font-weight:normal">70</tspan></text>
<text y="182" fill="#8c00d2" ><tspan x="36.05 41.05" style="font-family:&quot;Liberation Sans&quot;,sans-serif;font-size:8.8px;font-weight:normal">60</tspan></text>
<text y="213" fill="#8c00d2" ><tspan x="36.05 41.05" style="font-family:&quot;Liberation Sans&quot;,sans-serif;font-size:8.8px;font-weight:normal">50</tspan></text>
<text y="244" fill="#8c00d2" ><tspan x="36.05 41.05" style="font-family:&quot;Liberation Sans&quot;,sans-serif;font-size:8.8px;font-weight:normal">40</tspan></text>
<text y="275" fill="#8c00d2" ><tspan x="36.05 41.05" style="font-family:&quot;Liberation Sans&quot;,sans-serif;font-size:8.8px;font-weight:normal">30</tspan></text>
<text y="306" fill="#8c00d2" ><tspan x="36.05 41.05" style="font-family:&quot;Liberation Sans&quot;,sans-serif;font-size:8.8px;font-weight:normal">20</tspan></text>
<text y="337" fill="#8c00d2" ><tspan x="36.05 41.05" style="font-family:&quot;Liberation Sans&quot;,sans-serif;font-size:8.8px;font-weight:normal">10</tspan></text>
<text y="368" fill="#8c00d2" ><tspan x="41.05" style="font-family:&quot;Liberation Sans&quot;,sans-serif;font-size:8.8px;font-weight:normal">0</tspan></text>
<text y="58.0" fill="#ff0000" ><tspan x="57.05 62.05" style="font-family:&quot;Liberation Sans&quot;,sans-serif;font-size:8.8px;font-weight:normal">32</tspan></text>
<text y="78.66666666666667" fill="#ff0000" ><tspan x="57.05 62.05" style="font-family:&quot;Liberation Sans&quot;,sans-serif;font-size:8.8px;font-weight:normal">30</tspan></text>
<text y="99.33333333333334" fill="#ff0000" ><tspan x="57.05 62.05" style="font-family:&quot;Liberation Sans&quot;,sans-serif;font-size:8.8px;font-weight:normal">28</tspan></text>
<text y="120.0" fill="#ff0000" ><tspan x="57.05 62.05" style="font-family:&quot;Liberation Sans&quot;,sans-serif;font-size:8.8px;font-weight:normal">26</tspan></text>
<text y="140.66666666666669" fill="#ff0000" ><tspan x="57.05 62.05" style="font-family:&quot;Liberation Sans&quot;,sans-serif;font-size:8.8px;font-weight:normal">24</tspan></text>
<text y="161.33333333333334" fill="#ff0000" ><tspan x="57.05 62.05" style="font-family:&quot;Liberation Sans&quot;,sans-serif;font-size:8.8px;font-weight:normal">22</tspan></text>
<text y="182.0" fill="#ff0000" ><tspan x="57.05 62.05" style="font-family:&quot;Liberation Sans&quot;,sans-serif;font-size:8.8px;font-weight:normal">20</tspan></text>
<text y="202.66666666666669" fill="#ff0000" ><tspan x="57.05 62.05" style="font-family:&quot;Liberation Sans&quot;,sans-serif;font-size:8.8px;font-weight:normal">18</tspan></text>
<text y="223.33333333333334" fill="#ff0000" ><tspan x="57.05 62.05" style="font-family:&quot;Liberation Sans&quot;,sans-serif;font-size:8.8px;font-weight:normal">16</tspan></text>
<text y="244.0" fill="#ff0000" ><tspan x="57.05 62.05" style="font-family:&quot;Liberation Sans&quot;,sans-serif;font-size:8.8px;font-weight:normal">14</tspan></text>
<text y="264.6666666666667" fill="#ff0000" ><tspan x="57.05 62.05" style="font-family:&quot;Liberation Sans&quot;,sans-serif;font-size:8.8px;font-weight:normal">12</tspan></text>
<text y="285.33333333333337" fill="#ff0000" ><tspan x="57.05 62.05" style="font-family:&quot;Liberation Sans&quot;,sans-serif;font-size:8.8px;font-weight:normal">10</tspan></text>
<text y="306.0" fill="#ff0000" ><tspan x="62.05" style="font-family:&quot;Liberation Sans&quot;,sans-serif;font-size:8.8px;font-weight:normal">8</tspan></text>
<text y="326.6666666666667" fill="#ff0000" ><tspan x="62.05" style="font-family:&quot;Liberation Sans&quot;,sans-serif;font-size:8.8px;font-weight:normal">6</tspan></text>
<text y="347.33333333333337" fill="#ff0000" ><tspan x="62.05" style="font-family:&quot;Liberation Sans&quot;,sans-serif;font-size:8.8px;font-weight:normal">4</tspan></text>
<text y="368.0" fill="#ff0000" ><tspan x="62.05" style="font-family:&quot;Liberation Sans&quot;,sans-serif;font-size:8.8px;font-weight:normal">2</tspan></text>
<text y="48" fill="#228b22" ><tspan x="6.00 11.00 16.00">hPa</tspan></text>
<text y="48" fill="#8c00d2" ><tspan x="41.00">%</tspan></text>
<text y="48" fill="#ff0000" ><tspan x="57.00 62.00">°C</tspan></text>
<text y="58.0" fill="#646464" font-weight="normal"><tspan x="808.05 813.05 818.05" style="font-family:&quot;Liberation Sans&quot;,sans-serif;font-size:8.8px;font-weight:normal">360</tspan></text>
<text y="96.75" fill="#646464" font-weight="normal"><tspan x="808.05 813.05 818.05" style="font-family:&quot;Liberation Sans&quot;,sans-serif;font-size:8.8px;font-weight:normal">315</tspan></text>
<text y="135.5" fill="#646464" font-weight="normal"><tspan x="808.05 813.05 818.05" style="font-family:&quot;Liberation Sans&quot;,sans-serif;font-size:8.8px;font-weight:normal">270</tspan></text>
<text y="174.25" fill="#646464" font-weight="normal"><tspan x="808.05 813.05 818.05" style="font-family:&quot;Liberation Sans&quot;,sans-serif;font-size:8.8px;font-weight:normal">225</tspan></text>
<text y="213.0" fill="#646464" font-weight="normal"><tspan x="808.05 813.05 818.05" style="font-family:&quot;Liberation Sans&quot;,sans-serif;font-size:8.8px;font-weight:normal">180</tspan></text>
<text y="251.75" fill="#646464" font-weight="normal"><tspan x="808.05 813.05 818.05" style="font-family:&quot;Liberation Sans&quot;,sans-serif;font-size:8.8px;font-weight:normal">135</tspan></text>
<text y="290.5" fill="#646464" font-weight="normal"><tspan x="808.05 813.05" style="font-family:&quot;Liberation Sans&quot;,sans-serif;font-size:8.8px;font-weight:normal">90</tspan></text>
<text y="329.25" fill="#646464" font-weight="normal"><tspan x="808.05 813.05" style="font-family:&quot;Liberation Sans&quot;,sans-serif;font-size:8.8px;font-weight:normal">45</tspan></text>
<text y="58.0" fill="#000" ><tspan x="828.05 833.05" style="font-family:&quot;Liberation Sans&quot;,sans-serif;font-size:8.8px;font-weight:normal">12</tspan></text>
<text y="83.83333333333333" fill="#000" ><tspan x="828.05 833.05" style="font-family:&quot;Liberation Sans&quot;,sans-serif;font-size:8.8px;font-weight:normal">11</tspan></text>
<text y="109.66666666666666" fill="#000" ><tspan x="828.05 833.05" style="font-family:&quot;Liberation Sans&quot;,sans-serif;font-size:8.8px;font-weight:normal">10</tspan></text>
<text y="135.5" fill="#000" ><tspan x="828.05" style="font-family:&quot;Liberation Sans&quot;,sans-serif;font-size:8.8px;font-weight:normal">9</tspan></text>
<text y="161.33333333333331" fill="#000" ><tspan x="828.05" style="font-family:&quot;Liberation Sans&quot;,sans-serif;font-size:8.8px;font-weight:normal">8</tspan></text>
<text y="187.16666666666666" fill="#000" ><tspan x="828.05" style="font-family:&quot;Liberation Sans&quot;,sans-serif;font-size:8.8px;font-weight:normal">7</tspan></text>
<text y="213.0" fill="#000" ><tspan x="828.05" style="font-family:&quot;Liberation Sans&quot;,sans-serif;font-size:8.8px;font-weight:normal">6</tspan></text>
<text y="238.83333333333331" fill="#000" ><tspan x="828.05" style="font-family:&quot;Liberation Sans&quot;,sans-serif;font-size:8.8px;font-weight:normal">5</tspan></text>
<text y="264.66666666666663" fill="#000" ><tspan x="828.05" style="font-family:&quot;Liberation Sans&quot;,sans-serif;font-size:8.8px;font-weight:normal">4</tspan></text>
<text y="290.5" fill="#000" ><tspan x="828.05" style="font-family:&quot;Liberation Sans&quot;,sans-serif;font-size:8.8px;font-weight:normal">3</tspan></text>
<text y="316.3333333333333" fill="#000" ><tspan x="828.05" style="font-family:&quot;Liberation Sans&quot;,sans-serif;font-size:8.8px;font-weight:normal">2</tspan></text>
<text y="342.16666666666663" fill="#000" ><tspan x="828.05" style="font-family:&quot;Liberation Sans&quot;,sans-serif;font-size:8.8px;font-weight:normal">1</tspan></text>
<text y="368.0" fill="#000" ><tspan x="828.05" style="font-family:&quot;Liberation Sans&quot;,sans-serif;font-size:8.8px;font-weight:normal">0</tspan></text>
<text y="58" fill="#00bfff" ><tspan x="848.05" style="font-family:&quot;Liberation Sans&quot;,sans-serif;font-size:8.8px;font-weight:normal">1</tspan></text>
<text y="368" fill="#00bfff" ><tspan x="848.05" style="font-family:&quot;Liberation Sans&quot;,sans-serif;font-size:8.8px;font-weight:normal">0</tspan></text>
<text y="58.0" fill="#ffff00" ><tspan x="863.05 868.05" style="font-family:&quot;Liberation Sans&quot;,sans-serif;font-size:8.8px;font-weight:normal">11</tspan></text>
<text y="86.18181818181819" fill="#ffff00" ><tspan x="863.05 868.05" style="font-family:&quot;Liberation Sans&quot;,sans-serif;font-size:8.8px;font-weight:normal">10</tspan></text>
<text y="114.36363636363637" fill="#ffff00" ><tspan x="863.05" style="font-family:&quot;Liberation Sans&quot;,sans-serif;font-size:8.8px;font-weight:normal">9</tspan></text>
<text y="142.54545454545456" fill="#ffff00" ><tspan x="863.05" style="font-family:&quot;Liberation Sans&quot;,sans-serif;font-size:8.8px;font-weight:normal">8</tspan></text>
<text y="170.72727272727275" fill="#ffff00" ><tspan x="863.05" style="font-family:&quot;Liberation Sans&quot;,sans-serif;font-size:8.8px;font-weight:normal">7</tspan></text>
<text y="198.9090909090909" fill="#ffff00" ><tspan x="863.05" style="font-family:&quot;Liberation Sans&quot;,sans-serif;font-size:8.8px;font-weight:normal">6</tspan></text>
<text y="227.0909090909091" fill="#ffff00" ><tspan x="863.05" style="font-family:&quot;Liberation Sans&quot;,sans-serif;font-size:8.8px;font-weight:normal">5</tspan></text>
<text y="255.27272727272728" fill="#ffff00" ><tspan x="863.05" style="font-family:&quot;Liberation Sans&quot;,sans-serif;font-size:8.8px;font-weight:normal">4</tspan></text>
<text y="283.4545454545455" fill="#ffff00" ><tspan x="863.05" style="font-family:&quot;Liberation Sans&quot;,sans-serif;font-size:8.8px;font-weight:normal">3</tspan></text>
<text y="311.6363636363636" fill="#ffff00" ><tspan x="863.05" style="font-family:&quot;Liberation Sans&quot;,sans-serif;font-size:8.8px;font-weight:normal">2</tspan></text>
<text y="339.8181818181818" fill="#ffff00" ><tspan x="863.05" style="font-family:&quot;Liberation Sans&quot;,sans-serif;font-size:8.8px;font-weight:normal">1</tspan></text>
<text y="368.0" fill="#ffff00" ><tspan x="863.05" style="font-family:&quot;Liberation Sans&quot;,sans-serif;font-size:8.8px;font-weight:normal">0</tspan></text>
<text y="213.0" fill="#ff8000" ><tspan x="878.05 883.05 888.05 893.05" style="font-family:&quot;Liberation Sans&quot;,sans-serif;font-size:8.8px;font-weight:normal">1500</tspan></text>
<text y="228.5" fill="#ff8000" ><tspan x="878.05 883.05 888.05 893.05" style="font-family:&quot;Liberation Sans&quot;,sans-serif;font-size:8.8px;font-weight:normal">1350</tspan></text>
<text y="244.0" fill="#ff8000" ><tspan x="878.05 883.05 888.05 893.05" style="font-family:&quot;Liberation Sans&quot;,sans-serif;font-size:8.8px;font-weight:normal">1200</tspan></text>
<text y="259.5" fill="#ff8000" ><tspan x="878.05 883.05 888.05 893.05" style="font-family:&quot;Liberation Sans&quot;,sans-serif;font-size:8.8px;font-weight:normal">1050</tspan></text>
<text y="275.0" fill="#ff8000" ><tspan x="878.05 883.05 888.05" style="font-family:&quot;Liberation Sans&quot;,sans-serif;font-size:8.8px;font-weight:normal">900</tspan></text>
<text y="290.5" fill="#ff8000" ><tspan x="878.05 883.05 888.05" style="font-family:&quot;Liberation Sans&quot;,sans-serif;font-size:8.8px;font-weight:normal">750</tspan></text>
<text y="306.0" fill="#ff8000" ><tspan x="878.05 883.05 888.05" style="font-family:&quot;Liberation Sans&quot;,sans-serif;font-size:8.8px;font-weight:normal">600</tspan></text>
<text y="321.5" fill="#ff8000" ><tspan x="878.05 883.05 888.05" style="font-family:&quot;Liberation Sans&quot;,sans-serif;font-size:8.8px;font-weight:normal">450</tspan></text>
<text y="337.0" fill="#ff8000" ><tspan x="878.05 883.05 888.05" style="font-family:&quot;Liberation Sans&quot;,sans-serif;font-size:8.8px;font-weight:normal">300</tspan></text>
<text y="352.5" fill="#ff8000" ><tspan x="878.05 883.05 888.05" style="font-family:&quot;Liberation Sans&quot;,sans-serif;font-size:8.8px;font-weight:normal">150</tspan></text>
<text y="368.0" fill="#ff8000" ><tspan x="878.05" style="font-family:&quot;Liberation Sans&quot;,sans-serif;font-size:8.8px;font-weight:normal">0</tspan></text>
<text y="47" fill="#646464" font-weight="normal"><tspan x="808.00">°</tspan></text>
<text y="47" fill="#000" ><tspan x="827.00 832.00 837.00">m/s</tspan></text>
<text y="47" fill="#00bfff" ><tspan x="847.00 852.00">mm</tspan></text>
<text y="47" fill="#ff8000" ><tspan x="877.00">W</tspan></text>
<text y="377" fill="#000" font-style="italic"><tspan x="814.00 819.00 824.00">čas</tspan></text>
<text y="12" fill="#000" ><tspan x="25.00 30.00 35.00 40.00 45.00 50.00 55.00">Teplota</tspan></text>
<text y="12" fill="#000" ><tspan x="85.00 90.00 95.00 100.00 105.00 110.00 115.00 120.00 125.00 130.00 135.00 140.00 145.00 150.00 155.00 160.00">Přízemní teplota</tspan></text>
<text y="12" fill="#000" ><tspan x="190.00 195.00 200.00 205.00 210.00 215.00 220.00">Vlhkost</tspan></text>
<text y="12" fill="#000" ><tspan x="250.00 255.00 260.00 265.00">Tlak</tspan></text>
<text y="12" fill="#000" ><tspan x="295.00 300.00 305.00 310.00 315.00 320.00">Srážky</tspan></text>
<text y="12" fill="#000" ><tspan x="350.00 355.00 360.00 365.00 370.00 375.00 380.00 385.00 390.00 395.00 400.00 405.00 410.00 415.00">Rychlost větru</tspan></text>
<text y="12" fill="#000" ><tspan x="445.00 450.00 455.00 460.00 465.00 470.00 475.00 480.00 485.00 490.00 495.00">Náraz větru</tspan></text>
<text y="12" fill="#000" ><tspan x="525.00 530.00 535.00 540.00 545.00 550.00 555.00 560.00 565.00 570.00">Směr větru</tspan></text>
<text y="12" fill="#ffff00" ><tspan x="600.00 605.00 610.00 615.00 620.00 625.00 630.00 635.00">UV index</tspan></text>
<text y="12" fill="#ff8000" ><tspan x="665.00 670.00 675.00 680.00 685.00">Solar</tspan></text>
<text y="27" fill="#000" ><tspan x="79.00 84.00 89.00">max</tspan></text>
<text y="27" fill="#ff0000" ><tspan x="99.05 104.05" style="font-family:&quot;Liberation Sans&quot;,sans-serif;font-size:8.8px;font-weight:normal">27</tspan><tspan x="109.00">.</tspan><tspan x="114.05" style="font-family:&quot;Liberation Sans&quot;,sans-serif;font-size:8.8px;font-weight:normal">5</tspan><tspan x="119.00 124.00">°C</tspan></text>
<text y="27" fill="#ff0000" ><tspan x="139.05 144.05" style="font-family:&quot;Liberation Sans&quot;,sans-serif;font-size:8.8px;font-weight:normal">97</tspan><tspan x="149.00">%</tspan></text>
<text y="27" fill="#ff0000" ><tspan x="164.05 169.05 174.05 179.05" style="font-family:&quot;Liberation Sans&quot;,sans-serif;font-size:8.8px;font-weight:normal">1020</tspan><tspan x="184.00 189.00 194.00">hPa</tspan></text>
<text y="27" fill="#00bfff" font-weight="normal"><tspan x="224.05" style="font-family:&quot;Liberation Sans&quot;,sans-serif;font-size:8.8px;font-weight:normal">0</tspan><tspan x="229.00">.</tspan><tspan x="234.05" style="font-family:&quot;Liberation Sans&quot;,sans-serif;font-size:8.8px;font-weight:normal">0</tspan><tspan x="239.00 244.00">mm</tspan></text>
<text y="37" fill="#000" ><tspan x="79.00 84.00 89.00">min</tspan></text>
<text y="37" fill="#0000dc" ><tspan x="99.05 104.05" style="font-family:&quot;Liberation Sans&quot;,sans-serif;font-size:8.8px;font-weight:normal">12</tspan><tspan x="109.00">.</tspan><tspan x="114.05" style="font-family:&quot;Liberation Sans&quot;,sans-serif;font-size:8.8px;font-weight:normal">6</tspan><tspan x="119.00 124.00">°C</tspan></text>
<text y="37" fill="#0000dc" ><tspan x="139.05 144.05" style="font-family:&quot;Liberation Sans&quot;,sans-serif;font-size:8.8px;font-weight:normal">45</tspan><tspan x="149.00">%</tspan></text>
<text y="37" fill="#0000dc" ><tspan x="164.05 169.05 174.05 179.05" style="font-family:&quot;Liberation Sans&quot;,sans-serif;font-size:8.8px;font-weight:normal">1014</tspan><tspan x="184.00 189.00 194.00">hPa</tspan></text>
<text y="47" fill="#000" ><tspan x="79.00 84.00 89.00">avg</tspan></text>
<text y="47" fill="#000" ><tspan x="99.05 104.05" style="font-family:&quot;Liberation Sans&quot;,sans-serif;font-size:8.8px;font-weight:normal">20</tspan><tspan x="109.00">.</tspan><tspan x="114.05" style="font-family:&quot;Liberation Sans&quot;,sans-serif;font-size:8.8px;font-weight:normal">5</tspan><tspan x="119.00 124.00">°C</tspan></text>
<text y="27" fill="#000" ><tspan x="494.00 499.00 504.00">WS:</tspan><tspan x="509.05" style="font-family:&quot;Liberation Sans&quot;,sans-serif;font-size:8.8px;font-weight:normal">3</tspan><tspan x="514.00">.</tspan><tspan x="519.05" style="font-family:&quot;Liberation Sans&quot;,sans-serif;font-size:8.8px;font-weight:normal">8</tspan><tspan x="524.00 529.00 534.00">m/s</tspan></text>
<text y="27" fill="#000" ><tspan x="564.00 569.00 574.00">WG:</tspan><tspan x="579.05" style="font-family:&quot;Liberation Sans&quot;,sans-serif;font-size:8.8px;font-weight:normal">5</tspan><tspan x="584.00">.</tspan><tspan x="589.05" style="font-family:&quot;Liberation Sans&quot;,sans-serif;font-size:8.8px;font-weight:normal">1</tspan><tspan x="594.00 599.00 604.00">m/s</tspan></text>
<text y="37" fill="#000" ><tspan x="494.00 499.00 504.00 509.00 514.00 519.00 524.00">Východ:</tspan><tspan x="529.05 534.05" style="font-family:&quot;Liberation Sans&quot;,sans-serif;font-size:8.8px;font-weight:normal">05</tspan><tspan x="539.00">:</tspan><tspan x="544.05 549.05" style="font-family:&quot;Liberation Sans&quot;,sans-serif;font-size:8.8px;font-weight:normal">28</tspan></text>
<text y="37" fill="#000" ><tspan x="564.00 569.00 574.00 579.00 584.00 589.00">Západ:</tspan><tspan x="594.05 599.05" style="font-family:&quot;Liberation Sans&quot;,sans-serif;font-size:8.8px;font-weight:normal">20</tspan><tspan x="604.00">:</tspan><tspan x="609.05 614.05" style="font-family:&quot;Liberation Sans&quot;,sans-serif;font-size:8.8px;font-weight:normal">31</tspan></text></g>
<g style="font-weight:bold"><text transform="translate(72.50,397) rotate(-90)" y="0" fill="#000" style="font-weight:bold"><tspan x="0.28 5.28" style="font-family:&quot;Liberation Sans&quot;,sans-serif;font-size:8.0px;font-weight:bold">00</tspan><tspan x="10.00">:</tspan><tspan x="15.28 20.28" style="font-family:&quot;Liberation Sans&quot;,sans-serif;font-size:8.0px;font-weight:bold">00</tspan></text>
<text transform="translate(88.14,397) rotate(-90)" y="0" fill="#000" style="font-weight:bold"><tspan x="0.28 5.28" style="font-family:&quot;Liberation Sans&quot;,sans-serif;font-size:8.0px;font-weight:bold">00</tspan><tspan x="10.00">:</tspan><tspan x="15.28 20.28" style="font-family:&quot;Liberation Sans&quot;,sans-serif;font-size:8.0px;font-weight:bold">30</tspan></text>
<text transform="translate(103.78,397) rotate(-90)" y="0" fill="#000" style="font-weight:bold"><tspan x="0.28 5.28" style="font-family:&quot;Liberation Sans&quot;,sans-serif;font-size:8.0px;font-weight:bold">01</tspan><tspan x="10.00">:</tspan><tspan x="15.28 20.28" style="font-family:&quot;Liberation Sans&quot;,sans-serif;font-size:8.0px;font-weight:bold">05</tspan></text>
<text transform="translate(119.41,397) rotate(-90)" y="0" fill="#000" style="font-weight:bold"><tspan x="0.28 5.28" style="font-family:&quot;Liberation Sans&quot;,sans-serif;font-size:8.0px;font-weight:bold">01</tspan><tspan x="10.00">:</tspan><tspan x="15.28 20.28" style="font-family:&quot;Liberation Sans&quot;,sans-serif;font-size:8.0px;font-weight:bold">40</tspan></text>
<text transform="translate(135.05,397) rotate(-90)" y="0" fill="#000" style="font-weight:bold"><tspan x="0.28 5.28" style="font-family:&quot;Liberation Sans&quot;,sans-serif;font-size:8.0px;font-weight:bold">02</tspan><tspan x="10.00">:</tspan><tspan x="15.28 20.28" style="font-family:&quot;Liberation Sans&quot;,sans-serif;font-size:8.0px;font-weight:bold">10</tspan></text>
<text transform="translate(150.69,397) rotate(-90)" y="0" fill="#000" style="font-weight:bold"><tspan x="0.28 5.28" style="font-family:&quot;Liberation Sans&quot;,sans-serif;font-size:8.0px;font-weight:bold">02</tspan><tspan x="10.00">:</tspan><tspan x="15.28 20.28" style="font-family:&quot;Liberation Sans&quot;,sans-serif;font-size:8.0px;font-weight:bold">40</tspan></text>
<text transform="translate(166.33,397) rotate(-90)" y="0" fill="#000" style="font-weight:bold"><tspan x="0.28 5.28" style="font-family:&quot;Liberation Sans&quot;,sans-serif;font-size:8.0px;font-weight:bold">03</tspan><tspan x="10.00">:</tspan><tspan x="15.28 20.28" style="font-family:&quot;Liberation Sans&quot;,sans-serif;font-size:8.0px;font-weight:bold">10</tspan></text>
<text transform="translate(181.97,397) rotate(-90)" y="0" fill="#000" style="font-weight:bold"><tspan x="0.28 5.28" style="font-family:&quot;Liberation Sans&quot;,sans-serif;font-size:8.0px;font-weight:bold">03</tspan><tspan x="10.00">:</tspan><tspan x="15.28 20.28" style="font-family:&quot;Liberation Sans&quot;,sans-serif;font-size:8.0px;font-weight:bold">40</tspan></text>
<text transform="translate(197.61,397) rotate(-90)" y="0" fill="#000" style="font-weight:bold"><tspan x="0.28 5.28" style="font-family:&quot;Liberation Sans&quot;,sans-serif;font-size:8.0px;font-weight:bold">04</tspan><tspan x="10.00">:</tspan><tspan x="15.28 20.28" style="font-family:&quot;Liberation Sans&quot;,sans-serif;font-size:8.0px;font-weight:bold">10</tspan></text>
<text transform="translate(213.24,397) rotate(-90)" y="0" fill="#000" style="font-weight:bold"><tspan x="0.28 5.28" style="font-family:&quot;Liberation Sans&quot;,sans-serif;font-size:8.0px;font-weight:bold">04</tspan><tspan x="10.00">:</tspan><tspan x="15.28 20.28" style="font-family:&quot;Liberation Sans&quot;,sans-serif;font-size:8.0px;font-weight:bold">40</tspan></text>
<text transform="translate(228.88,397) rotate(-90)" y="0" fill="#000" style="font-weight:bold"><tspan x="0.28 5.28" style="font-family:&quot;Liberation Sans&quot;,sans-serif;font-size:8.0px;font-weight:bold">05</tspan><tspan x="10.00">:</tspan><tspan x="15.28 20.28" style="font-family:&quot;Liberation Sans&quot;,sans-serif;font-size:8.0px;font-weight:bold">10</tspan></text>
<text transform="translate(244.52,397) rotate(-90)" y="0" fill="#000" style="font-weight:bold"><tspan x="0.28 5.28" style="font-family:&quot;Liberation Sans&quot;,sans-serif;font-size:8.0px;font-weight:bold">05</tspan><tspan x="10.00">:</tspan><tspan x="15.28 20.28" style="font-family:&quot;Liberation Sans&quot;,sans-serif;font-size:8.0px;font-weight:bold">40</tspan></text>
<text transform="translate(260.16,397) rotate(-90)" y="0" fill="#000" style="font-weight:bold"><tspan x="0.28 5.28" style="font-family:&quot;Liberation Sans&quot;,sans-serif;font-size:8.0px;font-weight:bold">06</tspan><tspan x="10.00">:</tspan><tspan x="15.28 20.28" style="font-family:&quot;Liberation Sans&quot;,sans-serif;font-size:8.0px;font-weight:bold">10</tspan></text>
<text transform="translate(275.80,397) rotate(-90)" y="0" fill="#000" style="font-weight:bold"><tspan x="0.28 5.28" style="font-family:&quot;Liberation Sans&quot;,sans-serif;font-size:8.0px;font-weight:bold">06</tspan><tspan x="10.00">:</tspan><tspan x="15.28 20.28" style="font-family:&quot;Liberation Sans&quot;,sans-serif;font-size:8.0px;font-weight:bold">40</tspan></text>
<text transform="translate(291.44,397) rotate(-90)" y="0" fill="#000" style="font-weight:bold"><tspan x="0.28 5.28" style="font-family:&quot;Liberation Sans&quot;,sans-serif;font-size:8.0px;font-weight:bold">07</tspan><tspan x="10.00">:</tspan><tspan x="15.28 20.28" style="font-family:&quot;Liberation Sans&quot;,sans-serif;font-size:8.0px;font-weight:bold">10</tspan></text>
<text transform="translate(307.07,397) rotate(-90)" y="0" fill="#000" style="font-weight:bold"><tspan x="0.28 5.28" style="font-family:&quot;Liberation Sans&quot;,sans-serif;font-size:8.0px;font-weight:bold">07</tspan><tspan x="10.00">:</tspan><tspan x="15.28 20.28" style="font-family:&quot;Liberation Sans&quot;,sans-serif;font-size:8.0px;font-weight:bold">40</tspan></text>
<text transform="translate(322.71,397) rotate(-90)" y="0" fill="#000" style="font-weight:bold"><tspan x="0.28 5.28" style="font-family:&quot;Liberation Sans&quot;,sans-serif;font-size:8.0px;font-weight:bold">08</tspan><tspan x="10.00">:</tspan><tspan x="15.28 20.28" style="font-family:&quot;Liberation Sans&quot;,sans-serif;font-size:8.0px;font-weight:bold">10</tspan></text>
<text transform="translate(338.35,397) rotate(-90)" y="0" fill="#000" style="font-weight:bold"><tspan x="0.28 5.28" style="font-family:&quot;Liberation Sans&quot;,sans-serif;font-size:8.0px;font-weight:bold">08</tspan><tspan x="10.00">:</tspan><tspan x="15.28 20.28" style="font-family:&quot;Liberation Sans&quot;,sans-serif;font-size:8.0px;font-weight:bold">40</tspan></text>
<text transform="translate(353.99,397) rotate(-90)" y="0" fill="#000" style="font-weight:bold"><tspan x="0.28 5.28" style="font-family:&quot;Liberation Sans&quot;,sans-serif;font-size:8.0px;font-weight:bold">09</tspan><tspan x="10.00">:</tspan><tspan x="15.28 20.28" style="font-family:&quot;Liberation Sans&quot;,sans-serif;font-size:8.0px;font-weight:bold">10</tspan></text>
<text transform="translate(369.63,397) rotate(-90)" y="0" fill="#000" style="font-weight:bold"><tspan x="0.28 5.28" style="font-family:&quot;Liberation Sans&quot;,sans-serif;font-size:8.0px;font-weight:bold">09</tspan><tspan x="10.00">:</tspan><tspan x="15.28 20.28" style="font-family:&quot;Liberation Sans&quot;,sans-serif;font-size:8.0px;font-weight:bold">40</tspan></text>
<text transform="translate(385.27,397) rotate(-90)" y="0" fill="#000" style="font-weight:bold"><tspan x="0.28 5.28" style="font-family:&quot;Liberation Sans&quot;,sans-serif;font-size:8.0px;font-weight:bold">10</tspan><tspan x="10.00">:</tspan><tspan x="15.28 20.28" style="font-family:&quot;Liberation Sans&quot;,sans-serif;font-size:8.0px;font-weight:bold">10</tspan></text>
<text transform="translate(400.90,397) rotate(-90)" y="0" fill="#000" style="font-weight:bold"><tspan x="0.28 5.28" style="font-family:&quot;Liberation Sans&quot;,sans-serif;font-size:8.0px;font-weight:bold">10</tspan><tspan x="10.00">:</tspan><tspan x="15.28 20.28" style="font-family:&quot;Liberation Sans&quot;,sans-serif;font-size:8.0px;font-weight:bold">40</tspan></text>
<text transform="translate(416.54,397) rotate(-90)" y="0" fill="#000" style="font-weight:bold"><tspan x="0.28 5.28" style="font-family:&quot;Liberation Sans&quot;,sans-serif;font-size:8.0px;font-weight:bold">11</tspan><tspan x="10.00">:</tspan><tspan x="15.28 20.28" style="font-family:&quot;Liberation Sans&quot;,sans-serif;font-size:8.0px;font-weight:bold">10</tspan></text>
<text transform="translate(432.18,397) rotate(-90)" y="0" fill="#000" style="font-weight:bold"><tspan x="0.28 5.28" style="font-family:&quot;Liberation Sans&quot;,sans-serif;font-size:8.0px;font-weight:bold">11</tspan><tspan x="10.00">:</tspan><tspan x="15.28 20.28" style="font-family:&quot;Liberation Sans&quot;,sans-serif;font-size:8.0px;font-weight:bold">40</tspan></text>
<text transform="translate(447.82,397) rotate(-90)" y="0" fill="#000" style="font-weight:bold"><tspan x="0.28 5.28" style="font-family:&quot;Liberation Sans&quot;,sans-serif;font-size:8.0px;font-weight:bold">12</tspan><tspan x="10.00">:</tspan><tspan x="15.28 20.28" style="font-family:&quot;Liberation Sans&quot;,sans-serif;font-size:8.0px;font-weight:bold">10</tspan></text>
<text transform="translate(463.46,397) rotate(-90)" y="0" fill="#000" style="font-weight:bold"><tspan x="0.28 5.28" style="font-family:&quot;Liberation Sans&quot;,sans-serif;font-size:8.0px;font-weight:bold">12</tspan><tspan x="10.00">:</tspan><tspan x="15.28 20.28" style="font-family:&quot;Liberation Sans&quot;,sans-serif;font-size:8.0px;font-weight:bold">40</tspan></text>
<text transform="translate(479.10,397) rotate(-90)" y="0" fill="#000" style="font-weight:bold"><tspan x="0.28 5.28" style="font-family:&quot;Liberation Sans&quot;,sans-serif;font-size:8.0px;font-weight:bold">13</tspan><tspan x="10.00">:</tspan><tspan x="15.28 20.28" style="font-family:&quot;Liberation Sans&quot;,sans-serif;font-size:8.0px;font-weight:bold">10</tspan></text>
<text transform="translate(494.73,397) rotate(-90)" y="0" fill="#000" style="font-weight:bold"><tspan x="0.28 5.28" style="font-family:&quot;Liberation Sans&quot;,sans-serif;font-size:8.0px;font-weight:bold">13</tspan><tspan x="10.00">:</tspan><tspan x="15.28 20.28" style="font-family:&quot;Liberation Sans&quot;,sans-serif;font-size:8.0px;font-weight:bold">45</tspan></text>
<text transform="translate(510.37,397) rotate(-90)" y="0" fill="#000" style="font-weight:bold"><tspan x="0.28 5.28" style="font-family:&quot;Liberation Sans&quot;,sans-serif;font-size:8.0px;font-weight:bold">14</tspan><tspan x="10.00">:</tspan><tspan x="15.28 20.28" style="font-family:&quot;Liberation Sans&quot;,sans-serif;font-size:8.0px;font-weight:bold">15</tspan></text>
<text transform="translate(526.01,397) rotate(-90)" y="0" fill="#000" style="font-weight:bold"><tspan x="0.28 5.28" style="font-family:&quot;Liberation Sans&quot;,sans-serif;font-size:8.0px;font-weight:bold">14</tspan><tspan x="10.00">:</tspan><tspan x="15.28 20.28" style="font-family:&quot;Liberation Sans&quot;,sans-serif;font-size:8.0px;font-weight:bold">45</tspan></text>
<text transform="translate(541.65,397) rotate(-90)" y="0" fill="#000" style="font-weight:bold"><tspan x="0.28 5.28" style="font-family:&quot;Liberation Sans&quot;,sans-serif;font-size:8.0px;font-weight:bold">15</tspan><tspan x="10.00">:</tspan><tspan x="15.28 20.28" style="font-family:&quot;Liberation Sans&quot;,sans-serif;font-size:8.0px;font-weight:bold">15</tspan></text>
<text transform="translate(557.29,397) rotate(-90)" y="0" fill="#000" style="font-weight:bold"><tspan x="0.28 5.28" style="font-family:&quot;Liberation Sans&quot;,sans-serif;font-size:8.0px;font-weight:bold">15</tspan><tspan x="10.00">:</tspan><tspan x="15.28 20.28" style="font-family:&quot;Liberation Sans&quot;,sans-serif;font-size:8.0px;font-weight:bold">45</tspan></text>
<text transform="translate(572.93,397) rotate(-90)" y="0" fill="#000" style="font-weight:bold"><tspan x="0.28 5.28" style="font-family:&quot;Liberation Sans&quot;,sans-serif;font-size:8.0px;font-weight:bold">16</tspan><tspan x="10.00">:</tspan><tspan x="15.28 20.28" style="font-family:&quot;Liberation Sans&quot;,sans-serif;font-size:8.0px;font-weight:bold">15</tspan></text>
<text transform="translate(588.56,397) rotate(-90)" y="0" fill="#000" style="font-weight:bold"><tspan x="0.28 5.28" style="font-family:&quot;Liberation Sans&quot;,sans-serif;font-size:8.0px;font-weight:bold">16</tspan><tspan x="10.00">:</tspan><tspan x="15.28 20.28" style="font-family:&quot;Liberation Sans&quot;,sans-serif;font-size:8.0px;font-weight:bold">45</tspan></text>
<text transform="translate(604.20,397) rotate(-90)" y="0" fill="#000" style="font-weight:bold"><tspan x="0.28 5.28" style="font-family:&quot;Liberation Sans&quot;,sans-serif;font-size:8.0px;font-weight:bold">17</tspan><tspan x="10.00">:</tspan><tspan x="15.28 20.28" style="font-family:&quot;Liberation Sans&quot;,sans-serif;font-size:8.0px;font-weight:bold">15</tspan></text>
<text transform="translate(619.84,397) rotate(-90)" y="0" fill="#000" style="font-weight:bold"><tspan x="0.28 5.28" style="font-family:&quot;Liberation Sans&quot;,sans-serif;font-size:8.0px;font-weight:bold">17</tspan><tspan x="10.00">:</tspan><tspan x="15.28 20.28" style="font-family:&quot;Liberation Sans&quot;,sans-serif;font-size:8.0px;font-weight:bold">45</tspan></text>
<text transform="translate(635.48,397) rotate(-90)" y="0" fill="#000" style="font-weight:bold"><tspan x="0.28 5.28" style="font-family:&quot;Liberation Sans&quot;,sans-serif;font-size:8.0px;font-weight:bold">18</tspan><tspan x="10.00">:</tspan><tspan x="15.28 20.28" style="font-family:&quot;Liberation Sans&quot;,sans-serif;font-size:8.0px;font-weight:bold">15</tspan></text>
<text transform="translate(651.12,397) rotate(-90)" y="0" fill="#000" style="font-weight:bold"><tspan x="0.28 5.28" style="font-family:&quot;Liberation Sans&quot;,sans-serif;font-size:8.0px;font-weight:bold">18</tspan><tspan x="10.00">:</tspan><tspan x="15.28 20.28" style="font-family:&quot;Liberation Sans&quot;,sans-serif;font-size:8.0px;font-weight:bold">50</tspan></text>
<text transform="translate(666.76,397) rotate(-90)" y="0" fill="#000" style="font-weight:bold"><tspan x="0.28 5.28" style="font-family:&quot;Liberation Sans&quot;,sans-serif;font-size:8.0px;font-weight:bold">19</tspan><tspan x="10.00">:</tspan><tspan x="15.28 20.28" style="font-family:&quot;Liberation Sans&quot;,sans-serif;font-size:8.0px;font-weight:bold">20</tspan></text>
<text transform="translate(682.39,397) rotate(-90)" y="0" fill="#000" style="font-weight:bold"><tspan x="0.28 5.28" style="font-family:&quot;Liberation Sans&quot;,sans-serif;font-size:8.0px;font-weight:bold">19</tspan><tspan x="10.00">:</tspan><tspan x="15.28 20.28" style="font-family:&quot;Liberation Sans&quot;,sans-serif;font-size:8.0px;font-weight:bold">50</tspan></text>
<text transform="translate(698.03,397) rotate(-90)" y="0" fill="#000" style="font-weight:bold"><tspan x="0.28 5.28" style="font-family:&quot;Liberation Sans&quot;,sans-serif;font-size:8.0px;font-weight:bold">20</tspan><tspan x="10.00">:</tspan><tspan x="15.28 20.28" style="font-family:&quot;Liberation Sans&quot;,sans-serif;font-size:8.0px;font-weight:bold">20</tspan></text>
<text transform="translate(713.67,397) rotate(-90)" y="0" fill="#000" style="font-weight:bold"><tspan x="0.28 5.28" style="font-family:&quot;Liberation Sans&quot;,sans-serif;font-size:8.0px;font-weight:bold">20</tspan><tspan x="10.00">:</tspan><tspan x="15.28 20.28" style="font-family:&quot;Liberation Sans&quot;,sans-serif;font-size:8.0px;font-weight:bold">55</tspan></text>
<text transform="translate(729.31,397) rotate(-90)" y="0" fill="#000" style="font-weight:bold"><tspan x="0.28 5.28" style="font-family:&quot;Liberation Sans&quot;,sans-serif;font-size:8.0px;font-weight:bold">21</tspan><tspan x="10.00">:</tspan><tspan x="15.28 20.28" style="font-family:&quot;Liberation Sans&quot;,sans-serif;font-size:8.0px;font-weight:bold">25</tspan></text>
<text transform="translate(744.95,397) rotate(-90)" y="0" fill="#000" style="font-weight:bold"><tspan x="0.28 5.28" style="font-family:&quot;Liberation Sans&quot;,sans-serif;font-size:8.0px;font-weight:bold">21</tspan><tspan x="10.00">:</tspan><tspan x="15.28 20.28" style="font-family:&quot;Liberation Sans&quot;,sans-serif;font-size:8.0px;font-weight:bold">55</tspan></text>
<text transform="translate(760.59,397) rotate(-90)" y="0" fill="#000" style="font-weight:bold"><tspan x="0.28 5.28" style="font-family:&quot;Liberation Sans&quot;,sans-serif;font-size:8.0px;font-weight:bold">22</tspan><tspan x="10.00">:</tspan><tspan x="15.28 20.28" style="font-family:&quot;Liberation Sans&quot;,sans-serif;font-size:8.0px;font-weight:bold">25</tspan></text>
<text transform="translate(776.22,397) rotate(-90)" y="0" fill="#000" style="font-weight:bold"><tspan x="0.28 5.28" style="font-family:&quot;Liberation Sans&quot;,sans-serif;font-size:8.0px;font-weight:bold">22</tspan><tspan x="10.00">:</tspan><tspan x="15.28 20.28" style="font-family:&quot;Liberation Sans&quot;,sans-serif;font-size:8.0px;font-weight:bold">55</tspan></text>
<text transform="translate(791.86,397) rotate(-90)" y="0" fill="#000" style="font-weight:bold"><tspan x="0.28 5.28" style="font-family:&quot;Liberation Sans&quot;,sans-serif;font-size:8.0px;font-weight:bold">23</tspan><tspan x="10.00">:</tspan><tspan x="15.28 20.28" style="font-family:&quot;Liberation Sans&quot;,sans-serif;font-size:8.0px;font-weight:bold">25</tspan></text>
<text transform="translate(807.50,397) rotate(-90)" y="0" fill="#000" style="font-weight:bold"><tspan x="0.28 5.28" style="font-family:&quot;Liberation Sans&quot;,sans-serif;font-size:8.0px;font-weight:bold">23</tspan><tspan x="10.00">:</tspan><tspan x="15.28 20.28" style="font-family:&quot;Liberation Sans&quot;,sans-serif;font-size:8.0px;font-weight:bold">55</tspan></text></g>
<g filter="url(#th)"><text x="417" y="50.5" style="font-family:&quot;Liberation Mono&quot;,monospace;font-weight:bold;font-size:11.67px" fill="#000">3.08.2011</text></g>
<g><text y="66.0" fill="#555555" style="font-weight:bold"><tspan x="813.00">N</tspan></text>
<text y="104.75" fill="#555555" style="font-weight:bold"><tspan x="808.00 813.00">NW</tspan></text>
<text y="143.5" fill="#555555" style="font-weight:bold"><tspan x="813.00">W</tspan></text>
<text y="182.25" fill="#555555" style="font-weight:bold"><tspan x="808.00 813.00">SW</tspan></text>
<text y="221.0" fill="#555555" style="font-weight:bold"><tspan x="813.00">S</tspan></text>
<text y="259.75" fill="#555555" style="font-weight:bold"><tspan x="808.00 813.00">SE</tspan></text>
<text y="298.5" fill="#555555" style="font-weight:bold"><tspan x="813.00">E</tspan></text>
<text y="337.25" fill="#555555" style="font-weight:bold"><tspan x="808.00 813.00">NE</tspan></text></g>
</svg></div></body></html>
